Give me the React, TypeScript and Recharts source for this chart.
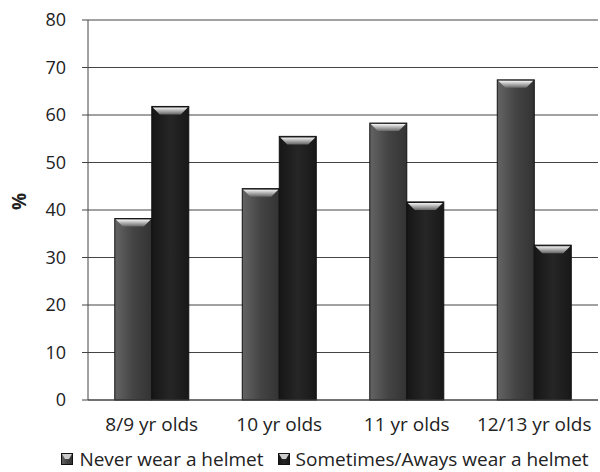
import { BarChart, Bar, XAxis, YAxis, CartesianGrid, Legend, Label } from 'recharts'

const AGE_GROUPS = ['8/9 yr olds', '10 yr olds', '11 yr olds', '12/13 yr olds']
const NEVER = [38.2, 44.5, 58.3, 67.4]
const SOMETIMES = [61.8, 55.5, 41.7, 32.6]
const Y_TICKS = [0, 10, 20, 30, 40, 50, 60, 70, 80]

const SERIES = [
  { key: 'never', name: 'Never wear a helmet', grad: 'gNever' },
  { key: 'sometimes', name: 'Sometimes/Aways wear a helmet', grad: 'gSome' },
]

const data = AGE_GROUPS.map((group, i) => ({
  group,
  never: NEVER[i],
  sometimes: SOMETIMES[i],
}))

const FONT = '"Open Sans", sans-serif'

function BevelBar(props: any) {
  const { x, y, width, height, gradId } = props
  if (!height || height <= 0) return null
  const inset = Math.min(8, width / 4)
  const capH = 8
  return (
    <g>
      <rect x={x} y={y} width={width} height={height} fill={`url(#${gradId})`} stroke="#111" strokeWidth={1} />
      <polygon
        points={`${x + 1},${y + 1} ${x + width - 1},${y + 1} ${x + width - inset},${y + capH} ${x + inset},${y + capH}`}
        fill="url(#gCap)"
      />
    </g>
  )
}

function LegendBox() {
  return (
    <div style={{ display: 'flex', justifyContent: 'center', gap: 14, fontFamily: FONT, fontSize: 19, color: '#222', marginLeft: 52, paddingTop: 8 }}>
      {SERIES.map(s => (
        <span key={s.key} style={{ display: 'flex', alignItems: 'center', gap: 6 }}>
          <svg width={12} height={12}>
            <rect x={0.5} y={0.5} width={11} height={11} fill={`url(#${s.grad})`} stroke="#111" />
            <polygon points="1,1 11,1 8,6 4,6" fill="#ccc" />
          </svg>
          {s.name}
        </span>
      ))}
    </div>
  )
}

export default function App() {
  return (
    <div style={{ position: 'absolute', left: 0, top: 0, width: 600, height: 472, background: '#fff' }}>
      <BarChart
        width={600}
        height={472}
        data={data}
        margin={{ top: 20, right: 2, bottom: 0, left: 0 }}
        barCategoryGap="21%"
        barGap={0}
      >
        <defs>
          <linearGradient id="gNever" x1="0" y1="0" x2="1" y2="0">
            <stop offset="0%" stopColor="#646464" />
            <stop offset="50%" stopColor="#444" />
            <stop offset="100%" stopColor="#333" />
          </linearGradient>
          <linearGradient id="gSome" x1="0" y1="0" x2="1" y2="0">
            <stop offset="0%" stopColor="#161616" />
            <stop offset="50%" stopColor="#262626" />
            <stop offset="100%" stopColor="#181818" />
          </linearGradient>
          <linearGradient id="gCap" x1="0" y1="0" x2="0" y2="1">
            <stop offset="0%" stopColor="#f4f4f4" />
            <stop offset="100%" stopColor="#666" />
          </linearGradient>
        </defs>
        <CartesianGrid vertical={false} stroke="#444" strokeWidth={1} />
        <XAxis
          dataKey="group"
          axisLine={{ stroke: '#444' }}
          tickLine={false}
          tick={{ fill: '#222', fontSize: 19, fontFamily: FONT }}
          tickMargin={12}
          height={38}
        />
        <YAxis
          domain={[0, 80]}
          ticks={Y_TICKS}
          width={88}
          axisLine={{ stroke: '#444' }}
          tickLine={{ stroke: '#444' }}
          tickSize={6}
          tickMargin={16}
          tick={{ fill: '#222', fontSize: 18, fontFamily: FONT }}
        >
          <Label
            value="%"
            angle={-90}
            position="insideLeft"
            offset={19}
            style={{ fill: '#222', fontSize: 19, fontWeight: 'bold', fontFamily: FONT }}
          />
        </YAxis>
        <Legend verticalAlign="bottom" height={34} content={<LegendBox />} />
        {SERIES.map(s => (
          <Bar
            key={s.key}
            dataKey={s.key}
            name={s.name}
            isAnimationActive={false}
            shape={(p: any) => <BevelBar {...p} gradId={s.grad} />}
          />
        ))}
      </BarChart>
    </div>
  )
}
